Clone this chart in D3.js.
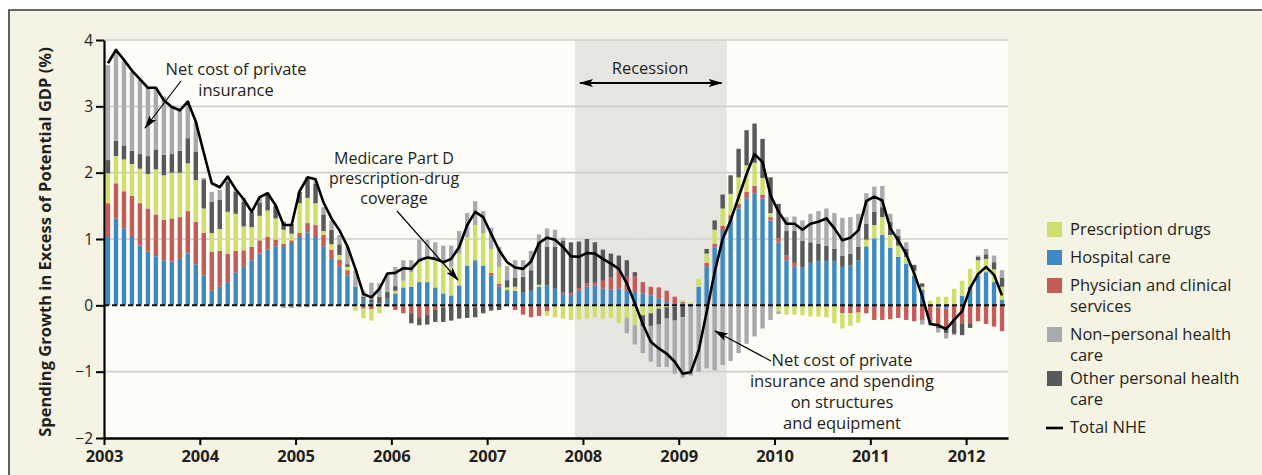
<!DOCTYPE html>
<html>
<head>
<meta charset="utf-8">
<script src="https://cdn.jsdelivr.net/npm/d3@7"></script>
<style>
  body { margin: 0; background: #fff; }
  text { font-family: "Open Sans", sans-serif; fill: #231f20; }
</style>
</head>
<body>
<svg id="chart"></svg>
<script>
// Monthly values, Jan 2003 .. May 2012 (113 months), % of potential GDP
const startYear = 2003;
const nMonths = 113;

const hospital = [1.03,1.31,1.16,1.03,0.90,0.81,0.74,0.68,0.66,0.70,0.78,0.62,
  0.45,0.22,0.28,0.35,0.49,0.58,0.68,0.78,0.84,0.89,0.88,0.94,
  1.03,1.10,1.03,0.89,0.70,0.58,0.45,0.28,0.10,0.05,0.03,0.10,
  0.18,0.27,0.28,0.35,0.35,0.27,0.18,0.15,0.30,0.60,0.68,0.60,
  0.45,0.28,0.23,0.22,0.19,0.22,0.28,0.30,0.25,0.17,0.14,0.22,
  0.28,0.30,0.25,0.24,0.25,0.22,0.20,0.18,0.15,0.10,0.05,0.02,
  0.03,-0.03,0.28,0.58,0.87,1.12,1.31,1.46,1.61,1.69,1.61,1.28,
  0.95,0.68,0.58,0.57,0.64,0.67,0.67,0.67,0.58,0.60,0.68,0.89,
  1.01,1.06,0.87,0.73,0.63,0.45,0.23,0.00,-0.03,-0.05,0.00,0.14,
  0.28,0.45,0.50,0.35,0.08];

const physician = [0.51,0.53,0.56,0.62,0.64,0.65,0.63,0.61,0.65,0.63,0.64,0.64,
  0.64,0.59,0.54,0.43,0.33,0.25,0.20,0.20,0.19,0.10,0.05,0.04,
  0.06,0.14,0.18,0.17,0.14,0.11,0.08,0.00,-0.05,-0.06,-0.02,-0.02,
  -0.07,-0.12,-0.12,-0.18,-0.14,-0.07,-0.03,-0.01,0.00,0.00,-0.03,0.00,
  0.04,0.05,0.00,-0.07,-0.14,-0.18,-0.16,-0.09,-0.02,0.02,0.04,0.04,
  0.05,0.04,0.12,0.18,0.28,0.21,0.24,0.17,0.13,0.17,0.17,0.11,
  0.02,0.02,0.00,0.06,0.06,0.08,0.05,0.07,0.10,0.11,0.06,0.05,
  0.06,0.07,0.06,0.00,0.00,0.00,-0.02,0.00,-0.12,-0.12,-0.11,-0.12,
  -0.22,-0.22,-0.21,-0.19,-0.22,-0.24,-0.22,-0.25,-0.29,-0.32,-0.24,-0.27,
  -0.27,-0.24,-0.28,-0.32,-0.39];

const drugs = [0.45,0.41,0.48,0.48,0.52,0.52,0.68,0.67,0.69,0.67,0.72,0.63,
  0.37,0.28,0.33,0.63,0.56,0.36,0.30,0.37,0.40,0.32,0.21,0.10,
  0.45,0.38,0.33,0.06,0.08,0.07,0.05,-0.08,-0.14,-0.17,-0.10,0.00,
  0.04,0.10,0.22,0.30,0.35,0.41,0.45,0.43,0.48,0.43,0.53,0.49,
  0.36,0.25,0.04,0.06,0.00,0.00,0.03,-0.07,-0.16,-0.20,-0.22,-0.21,
  -0.20,-0.18,-0.20,-0.19,-0.27,-0.19,-0.30,-0.15,-0.12,-0.05,-0.03,-0.02,
  0.03,0.02,0.12,0.14,0.21,0.26,0.32,0.40,0.40,0.35,0.25,0.06,
  -0.09,-0.14,-0.14,-0.15,-0.17,-0.17,-0.16,-0.27,-0.23,-0.19,-0.15,0.10,
  0.20,0.27,0.19,0.17,0.10,0.07,0.05,0.07,0.13,0.13,0.25,0.23,
  0.27,0.23,0.20,0.19,0.20];

const otherPersonal = [0.20,0.23,0.21,0.20,0.22,0.27,0.30,0.31,0.28,0.33,0.38,0.43,
  0.44,0.47,0.44,0.46,0.33,0.37,0.22,0.20,0.24,0.19,0.12,0.14,
  0.17,0.31,0.29,0.25,0.22,0.16,0.04,0.00,0.03,0.04,0.10,0.10,
  0.07,0.00,-0.15,-0.12,-0.15,-0.18,-0.22,-0.22,-0.20,-0.19,-0.15,-0.12,
  -0.08,-0.07,0.11,0.14,0.24,0.31,0.64,0.58,0.63,0.78,0.77,0.70,
  0.67,0.61,0.47,0.36,0.22,0.25,0.06,-0.17,-0.19,-0.24,-0.17,-0.21,
  -0.18,0.00,0.00,0.07,0.14,0.21,0.28,0.43,0.53,0.59,0.59,0.54,
  0.52,0.37,0.48,0.40,0.31,0.26,0.23,0.18,0.17,0.18,0.20,0.24,
  0.20,0.15,0.20,0.15,0.12,0.09,0.05,0.00,-0.03,-0.05,-0.19,-0.18,
  -0.07,0.05,0.07,0.11,0.14];

const nonPersonal = [1.43,1.38,1.27,1.19,1.12,1.03,0.93,0.88,0.73,0.63,0.56,0.45,
  0.02,0.15,0.15,0.07,0.03,0.06,0.00,0.08,0.03,0.00,-0.04,-0.04,
  -0.03,-0.03,0.05,0.11,0.14,0.14,0.26,0.25,0.09,0.25,0.20,0.28,
  0.29,0.31,0.18,0.34,0.29,0.27,0.27,0.32,0.34,0.36,0.36,0.33,
  0.32,0.30,0.21,0.26,0.25,0.29,0.12,0.28,0.26,0.05,0.00,0.00,
  0.00,0.00,0.00,0.00,0.00,-0.23,-0.29,-0.40,-0.54,-0.64,-0.73,-0.80,
  -0.91,-1.03,-1.00,-0.95,-0.98,-0.90,-0.84,-0.72,-0.58,-0.47,-0.35,-0.22,
  -0.04,0.21,0.22,0.31,0.43,0.49,0.56,0.54,0.57,0.55,0.50,0.46,
  0.38,0.32,0.12,0.10,0.10,0.00,-0.07,-0.05,-0.06,-0.08,-0.02,0.00,
  0.00,0.02,0.08,0.10,0.11];

const totalNHE = [3.65,3.85,3.70,3.54,3.41,3.28,3.28,3.09,2.99,2.94,3.07,2.77,
  2.30,1.84,1.78,1.94,1.75,1.60,1.41,1.63,1.69,1.51,1.21,1.21,
  1.72,1.93,1.90,1.55,1.31,1.13,0.89,0.55,0.17,0.12,0.25,0.48,
  0.49,0.56,0.55,0.68,0.72,0.70,0.65,0.70,0.88,1.21,1.41,1.33,
  1.08,0.83,0.65,0.57,0.55,0.66,0.94,1.02,0.99,0.88,0.74,0.73,
  0.79,0.78,0.70,0.63,0.55,0.33,0.03,-0.28,-0.55,-0.65,-0.73,-0.85,
  -1.03,-1.01,-0.68,-0.10,0.50,1.00,1.28,1.63,1.98,2.28,2.16,1.66,
  1.41,1.23,1.23,1.14,1.23,1.26,1.31,1.16,0.98,1.02,1.13,1.57,
  1.64,1.58,1.16,0.98,0.77,0.48,0.14,-0.28,-0.30,-0.36,-0.22,-0.09,
  0.26,0.47,0.58,0.46,0.15];

const yearTicks = [2003,2004,2005,2006,2007,2008,2009,2010,2011,2012];
const yTicks = [-2,-1,0,1,2,3,4];
const recession = [2007 + 11/12, 2009.5];

// stack order, bottom up (and outward from zero for negatives)
const keys = ["hospital","physician","drugs","other","nonpersonal"];
const colors = {
  drugs: "#d0de6b", hospital: "#3d8ac2", physician: "#c45c58",
  nonpersonal: "#a9aaae", other: "#58595b"
};
const legendItems = [
  { key: "drugs", lines: ["Prescription drugs"] },
  { key: "hospital", lines: ["Hospital care"] },
  { key: "physician", lines: ["Physician and clinical", "services"] },
  { key: "nonpersonal", lines: ["Non\u2013personal health", "care"] },
  { key: "other", lines: ["Other personal health", "care"] },
  { key: "total", lines: ["Total NHE"] }
];

const W = 1262, H = 475;
const plot = { left: 104, right: 1008, top: 40, bottom: 438 };

const svg = d3.select("#chart").attr("width", W).attr("height", H);

// outer panel
svg.append("rect").attr("x", 9).attr("y", 10).attr("width", W).attr("height", H)
  .attr("fill", "#f5f3e3");
svg.append("path").attr("d", `M9,${H} V10 H${W}`)
  .attr("fill", "none").attr("stroke", "#3a3a3a").attr("stroke-width", 1.6);

const x = d3.scaleLinear()
  .domain([startYear, 2012 + 5.25 / 12])
  .range([plot.left, plot.right]);
const y = d3.scaleLinear().domain([-2, 4]).range([plot.bottom, plot.top]);
const barX = i => x(startYear + (i + 0.5) / 12);
const barW = 4.4;

svg.append("rect")
  .attr("x", plot.left).attr("y", plot.top)
  .attr("width", plot.right - plot.left).attr("height", plot.bottom - plot.top)
  .attr("fill", "#fdfcf6");

// recession shading
svg.append("rect")
  .attr("x", x(recession[0])).attr("y", plot.top)
  .attr("width", x(recession[1]) - x(recession[0]))
  .attr("height", plot.bottom - plot.top)
  .attr("fill", "#e6e5e0");
const recMonths = d3.range(1, 18);
svg.append("g").selectAll("line").data(recMonths).join("line")
  .attr("x1", d => x(recession[0] + d / 12)).attr("x2", d => x(recession[0] + d / 12))
  .attr("y1", plot.top).attr("y2", plot.bottom)
  .attr("stroke", "#ebeae6").attr("stroke-width", 0.8);

// gridlines
svg.append("g").selectAll("line").data(yTicks.filter(d => d !== 0 && d !== -2)).join("line")
  .attr("x1", plot.left).attr("x2", plot.right)
  .attr("y1", d => y(d)).attr("y2", d => y(d))
  .attr("stroke", "#cfcfcf").attr("stroke-width", 1.6);

// stacked bars
const rows = d3.range(nMonths).map(i => ({
  i,
  hospital: hospital[i], physician: physician[i], drugs: drugs[i],
  other: otherPersonal[i], nonpersonal: nonPersonal[i]
}));
const series = d3.stack().keys(keys).offset(d3.stackOffsetDiverging)(rows);

svg.append("g").selectAll("g").data(series).join("g")
  .attr("fill", s => colors[s.key])
  .selectAll("rect").data(s => s).join("rect")
  .attr("x", d => barX(d.data.i) - barW / 2)
  .attr("width", barW)
  .attr("y", d => y(Math.max(d[0], d[1])))
  .attr("height", d => Math.abs(y(d[0]) - y(d[1])));

// zero line
svg.append("line")
  .attr("x1", plot.left).attr("x2", plot.right)
  .attr("y1", y(0)).attr("y2", y(0))
  .attr("stroke", "#111").attr("stroke-width", 2)
  .attr("stroke-dasharray", "5,3");

// total NHE line
svg.append("path")
  .datum(totalNHE)
  .attr("fill", "none").attr("stroke", "#000").attr("stroke-width", 2.6)
  .attr("stroke-linejoin", "round")
  .attr("d", d3.line().x((d, i) => barX(i)).y(d => y(d)));

// axes
const yAxis = d3.axisLeft(y).tickValues(yTicks).tickSize(8).tickSizeOuter(0)
  .tickFormat(d => d < 0 ? "\u2212" + Math.abs(d) : d);
const gy = svg.append("g").attr("transform", `translate(${plot.left},0)`).call(yAxis);
gy.select(".domain").attr("stroke", "#000").attr("stroke-width", 2.2);
gy.selectAll(".tick line").attr("stroke", "#000").attr("stroke-width", 2);
gy.selectAll(".tick text").attr("x", -11).attr("dy", "0.34em")
  .style("font-family", "'Open Sans', sans-serif").style("font-size", "15.5px").attr("fill", "#231f20");

const xAxis = d3.axisBottom(x).tickValues(yearTicks).tickSize(7).tickSizeOuter(0)
  .tickFormat(d3.format("d"));
const gx = svg.append("g").attr("transform", `translate(0,${plot.bottom})`).call(xAxis);
gx.select(".domain").attr("stroke", "#000").attr("stroke-width", 2.6);
gx.selectAll(".tick line").attr("stroke", "#000").attr("stroke-width", 2);
gx.selectAll(".tick text").attr("y", 12)
  .style("font-family", "'Open Sans', sans-serif").style("font-size", "16.5px")
  .style("font-weight", "bold").attr("fill", "#231f20");

// y axis title
svg.append("text")
  .attr("transform", `translate(51,${(plot.top + plot.bottom) / 2 + 3}) rotate(-90)`)
  .attr("text-anchor", "middle")
  .style("font-size", "16.5px").style("font-weight", "bold")
  .text("Spending Growth in Excess of Potential GDP (%)");

// arrow marker
svg.append("defs").append("marker")
  .attr("id", "arrow").attr("viewBox", "0 0 14 8")
  .attr("refX", 13).attr("refY", 4)
  .attr("markerWidth", 14).attr("markerHeight", 8)
  .attr("markerUnits", "userSpaceOnUse")
  .attr("orient", "auto-start-reverse")
  .append("path").attr("d", "M0,0 L14,4 L0,8 L3,4 Z").attr("fill", "#000");

// recession label
svg.append("text").attr("x", 650).attr("y", 74).attr("text-anchor", "middle")
  .style("font-size", "16.5px").text("Recession");
svg.append("line")
  .attr("x1", x(recession[0]) + 5).attr("x2", x(recession[1]) - 5)
  .attr("y1", 83).attr("y2", 83)
  .attr("stroke", "#000").attr("stroke-width", 1.8)
  .attr("marker-start", "url(#arrow)").attr("marker-end", "url(#arrow)");

// annotations
function note(lines, cx, y0, dy, size) {
  svg.append("text").attr("text-anchor", "middle").style("font-size", size || "16.5px")
    .selectAll("tspan").data(lines).join("tspan")
    .attr("x", cx).attr("y", (d, i) => y0 + i * dy).text(d => d);
}
function pointer(x1, y1, x2, y2) {
  svg.append("line").attr("x1", x1).attr("y1", y1).attr("x2", x2).attr("y2", y2)
    .attr("stroke", "#000").attr("stroke-width", 1.2)
    .attr("marker-end", "url(#arrow)");
}

note(["Net cost of private", "insurance"], 236, 75, 21);
pointer(181, 81, 145, 128);

note(["Medicare Part D", "prescription-drug", "coverage"], 394, 164, 20, "16px");
pointer(397, 211, 458, 280);

note(["Net cost of private", "insurance and spending", "on structures", "and equipment"], 842, 366, 21);
pointer(771, 361, 715, 331);

// legend
const legendY = [229, 257, 285, 334, 378, 427];
const lg = svg.append("g");
legendItems.forEach((item, k) => {
  const ly = legendY[k];
  if (item.key === "total") {
    lg.append("line").attr("x1", 1046).attr("x2", 1063).attr("y1", ly + 1).attr("y2", ly + 1)
      .attr("stroke", "#000").attr("stroke-width", 2.6);
  } else {
    lg.append("rect").attr("x", 1047).attr("y", ly - 7).attr("width", 15).attr("height", 15)
      .attr("fill", colors[item.key]);
  }
  lg.append("text").style("font-size", "16.5px")
    .selectAll("tspan").data(item.lines).join("tspan")
    .attr("x", 1070).attr("y", (d, i) => ly + 6 + i * 21).text(d => d);
});
</script>
</body>
</html>
